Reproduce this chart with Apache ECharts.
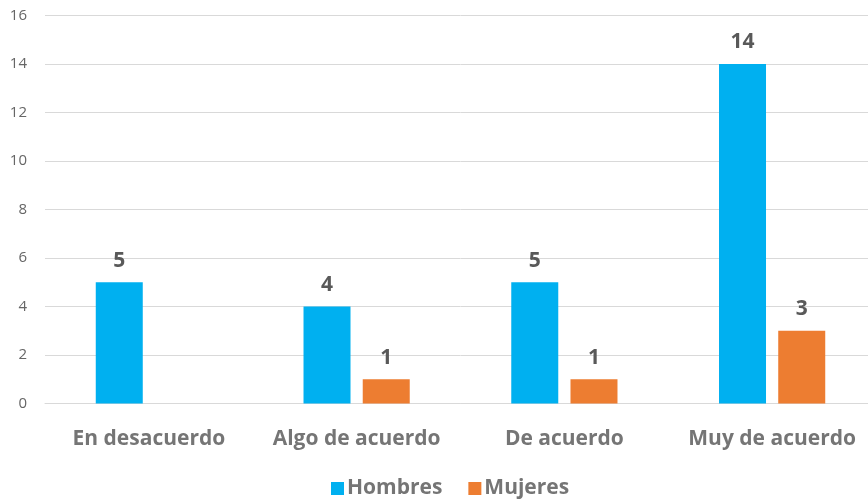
<!DOCTYPE html>
<html>
<head>
<meta charset="utf-8">
<script src="https://cdn.jsdelivr.net/npm/echarts@6/dist/echarts.min.js"></script>
<style>
  html, body { margin: 0; padding: 0; background: #fff; overflow: hidden; }
  /* plot area continues a little past the visible right edge */
  #chart { width: 876px; height: 502px; }
</style>
</head>
<body>
<div id="chart"></div>
<script>
// Responses by level of agreement, split by gender
const categories = ['En desacuerdo', 'Algo de acuerdo', 'De acuerdo', 'Muy de acuerdo'];
const hombres = [5, 4, 5, 14];
const mujeres = [null, 1, 1, 3];
const yTicks = { min: 0, max: 16, interval: 2 };

const font = '"Open Sans", Lato, sans-serif';

const chart = echarts.init(document.getElementById('chart'));

const labelStyle = {
  show: true,
  position: 'top',
  distance: 11,
  fontFamily: font,
  fontWeight: 'bold',
  fontSize: 21,
  color: '#595959'
};

chart.setOption({
  animation: false,
  grid: { left: 45, right: 0, top: 15.5, bottom: 98.5, containLabel: false },
  legend: {
    top: 473,
    left: 326,
    itemWidth: 13,
    itemHeight: 13,
    itemGap: 26,
    icon: 'rect',
    textStyle: { fontFamily: font, fontWeight: 'bold', fontSize: 21, color: '#757575', padding: [0, 0, 0, -2] },
    data: ['Hombres', 'Mujeres']
  },
  xAxis: {
    type: 'category',
    data: categories,
    axisLine: { lineStyle: { color: '#d9d9d9', width: 1 } },
    axisTick: { show: false },
    axisLabel: { interval: 0, margin: 25, fontFamily: font, fontWeight: 'bold', fontSize: 21, color: '#757575' }
  },
  yAxis: {
    type: 'value',
    min: yTicks.min,
    max: yTicks.max,
    interval: yTicks.interval,
    axisLine: { show: false },
    axisTick: { show: false },
    axisLabel: { margin: 18, fontFamily: font, fontSize: 15, color: '#666666' },
    splitLine: { lineStyle: { color: '#d9d9d9', width: 1 } }
  },
  series: [
    {
      name: 'Hombres',
      type: 'bar',
      data: hombres,
      barWidth: 47,
      barGap: '26%',
      itemStyle: { color: '#00b0f0' },
      label: labelStyle
    },
    {
      name: 'Mujeres',
      type: 'bar',
      data: mujeres,
      barWidth: 47,
      itemStyle: { color: '#ed7d31' },
      label: labelStyle
    }
  ]
});
</script>
</body>
</html>
